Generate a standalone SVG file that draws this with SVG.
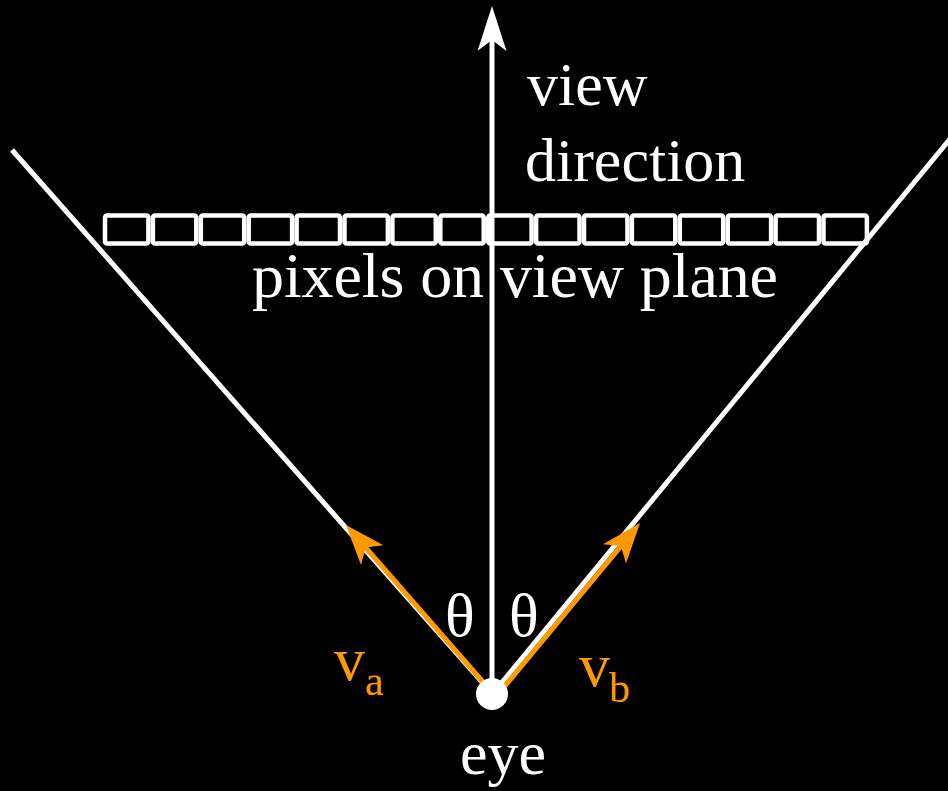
<svg xmlns="http://www.w3.org/2000/svg" width="948" height="791" viewBox="0 0 948 791">
<style>
text { font-family: "Liberation Serif", "Times New Roman", serif; }
.w { fill: #ffffff; font-size: 62px; }
.big { font-size: 64px; }
.o { fill: #ff9900; font-size: 62px; }
.sub { fill: #ff9900; font-size: 42px; }
.ln { stroke: #ffffff; stroke-width: 5; fill: none; }
.ol { stroke: #ff9900; stroke-width: 5; fill: none; }
.px { fill: none; stroke: #ffffff; stroke-width: 4.5; }
</style>
<defs>
<marker id="wh" viewBox="0 0 45 29" refX="11" refY="14.5" markerWidth="45" markerHeight="29" markerUnits="userSpaceOnUse" orient="auto">
<path d="M0,0 L45,14.5 L0,29 L11,14.5 Z" fill="#ffffff"/>
</marker>
<marker id="oh" viewBox="0 0 40 30" refX="10" refY="15" markerWidth="40" markerHeight="30" markerUnits="userSpaceOnUse" orient="auto">
<path d="M0,0 L40,15 L0,30 L10,15 Z" fill="#ff9900"/>
</marker>
</defs>
<rect x="0" y="0" width="948" height="791" fill="#000000"/>
<g id="connectors">
<line class="ln" x1="12" y1="150" x2="490" y2="691"/>
<line class="ln" x1="950" y1="139" x2="499" y2="686"/>
<line class="ln" x1="492" y1="694" x2="492" y2="40" marker-end="url(#wh)"/>
<line class="ol" x1="490" y1="690" x2="365.7" y2="547.6" marker-end="url(#oh)"/>
<line class="ol" x1="500" y1="692" x2="620.9" y2="546.1" marker-end="url(#oh)"/>
</g>
<g id="pixels">
<rect class="px" x="105" y="215.5" width="43.4" height="28" rx="2"/>
<rect class="px" x="152.9" y="215.5" width="43.4" height="28" rx="2"/>
<rect class="px" x="200.8" y="215.5" width="43.4" height="28" rx="2"/>
<rect class="px" x="248.7" y="215.5" width="43.4" height="28" rx="2"/>
<rect class="px" x="296.6" y="215.5" width="43.4" height="28" rx="2"/>
<rect class="px" x="344.5" y="215.5" width="43.4" height="28" rx="2"/>
<rect class="px" x="392.4" y="215.5" width="43.4" height="28" rx="2"/>
<rect class="px" x="440.3" y="215.5" width="43.4" height="28" rx="2"/>
<rect class="px" x="488.2" y="215.5" width="43.4" height="28" rx="2"/>
<rect class="px" x="536.1" y="215.5" width="43.4" height="28" rx="2"/>
<rect class="px" x="584" y="215.5" width="43.4" height="28" rx="2"/>
<rect class="px" x="631.9" y="215.5" width="43.4" height="28" rx="2"/>
<rect class="px" x="679.8" y="215.5" width="43.4" height="28" rx="2"/>
<rect class="px" x="727.7" y="215.5" width="43.4" height="28" rx="2"/>
<rect class="px" x="775.6" y="215.5" width="43.4" height="28" rx="2"/>
<rect class="px" x="823.5" y="215.5" width="43.4" height="28" rx="2"/>
<text class="w big" x="252" y="297" textLength="526" lengthAdjust="spacing">pixels on view plane</text>
</g>
<g id="view-direction">
<text class="w" x="527" y="105">view</text>
<text class="w" x="525" y="181">direction</text>
</g>
<g id="eye">
<circle cx="492" cy="694" r="16" fill="#ffffff"/>
<text class="w" x="460" y="774">eye</text>
</g>
<g id="angles">
<text class="w" x="445" y="636">θ</text>
<text class="w" x="509" y="636">θ</text>
</g>
<g id="va">
<text class="o" x="334" y="680">v</text>
<text class="sub" x="365" y="695">a</text>
</g>
<g id="vb">
<text class="o" x="579" y="686">v</text>
<text class="sub" x="609" y="702">b</text>
</g>
</svg>
